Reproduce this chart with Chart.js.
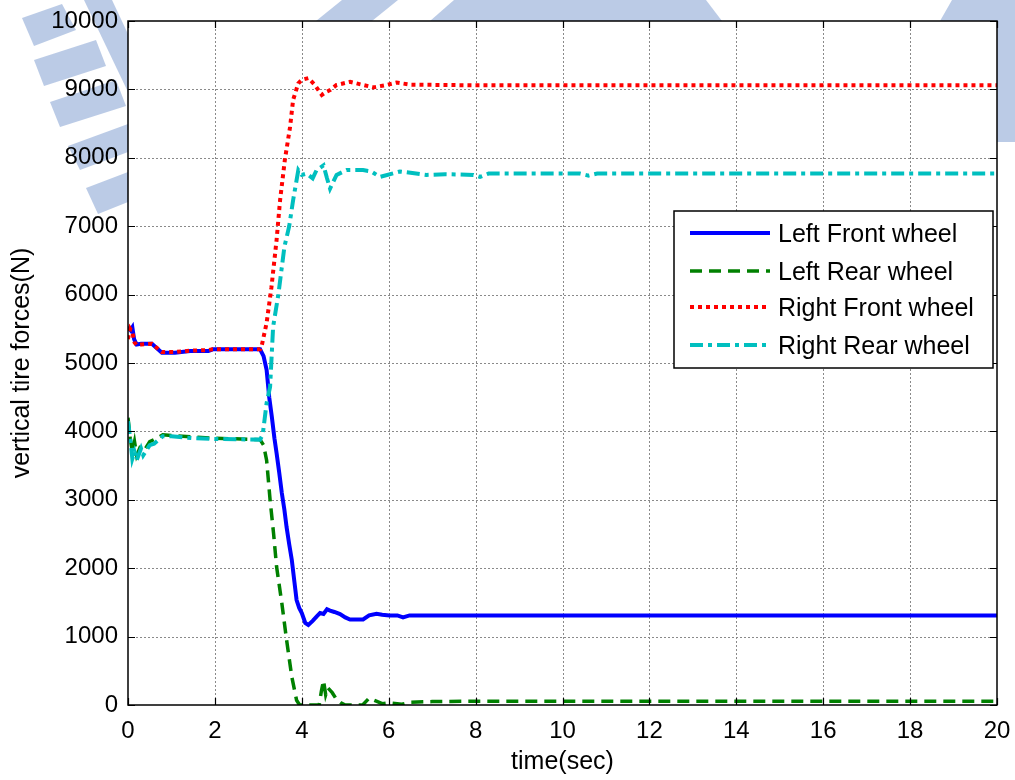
<!DOCTYPE html>
<html>
<head>
<meta charset="utf-8">
<script src="https://cdn.jsdelivr.net/npm/chart.js@4.4.0/dist/chart.umd.min.js"></script>
<style>
  html, body { margin: 0; padding: 0; background: #fff; }
  #wrap { width: 1015px; height: 780px; position: relative; }
</style>
</head>
<body>
<div id="wrap"><canvas id="c" width="1015" height="780"></canvas></div>
<script>
// Vertical tire forces of the four wheels during the manoeuvre (N) against time (s)
const seriesLabels = ['Left Front wheel', 'Left Rear wheel', 'Right Front wheel', 'Right Rear wheel'];

const timeLF  = [0, 0.06, 0.1, 0.14, 0.2, 0.3, 0.55, 0.78, 1.08, 1.43, 1.85, 1.95, 3.04, 3.12, 3.19, 3.25, 3.31, 3.37, 3.42, 3.48, 3.54, 3.6, 3.65, 3.71, 3.77, 3.83, 3.88, 3.94, 4.0, 4.08, 4.15, 4.25, 4.35, 4.42, 4.5, 4.58, 4.65, 4.75, 4.88, 5.0, 5.11, 5.41, 5.55, 5.72, 5.85, 6.02, 6.2, 6.33, 6.48, 8, 20];
const forceLF = [5530, 5480, 5520, 5350, 5270, 5280, 5280, 5150, 5150, 5175, 5175, 5200, 5200, 5100, 4900, 4500, 4215, 3900, 3680, 3400, 3100, 2850, 2600, 2350, 2120, 1800, 1535, 1420, 1345, 1200, 1170, 1230, 1300, 1345, 1330, 1400, 1380, 1360, 1330, 1280, 1250, 1250, 1310, 1335, 1320, 1310, 1310, 1280, 1310, 1310, 1310];

const timeLR  = [0, 0.05, 0.1, 0.15, 0.2, 0.3, 0.4, 0.5, 0.6, 0.8, 1.0, 1.5, 2.0, 3.04, 3.12, 3.19, 3.27, 3.35, 3.42, 3.54, 3.65, 3.77, 3.88, 3.95, 4.4, 4.45, 4.5, 4.55, 4.6, 4.7, 4.8, 4.9, 5.0, 5.4, 5.55, 5.7, 5.85, 6.0, 6.3, 6.5, 7, 8, 20];
const forceLR = [4200, 3900, 3700, 3850, 3650, 3800, 3750, 3850, 3880, 3950, 3940, 3920, 3900, 3880, 3800, 3580, 3000, 2510, 2020, 1490, 950, 410, 70, 0, 0, 200, 360, 150, 250, 180, 80, 30, 0, 0, 100, 60, 20, 30, 10, 40, 50, 55, 55];

const timeRF  = [0, 0.05, 0.1, 0.15, 0.2, 0.3, 0.55, 0.78, 1.08, 1.43, 1.85, 1.95, 3.04, 3.08, 3.19, 3.3, 3.42, 3.5, 3.61, 3.73, 3.8, 3.92, 4.0, 4.15, 4.3, 4.46, 4.55, 4.65, 4.8, 5.11, 5.41, 5.65, 5.95, 6.18, 6.49, 8, 20];
const forceRF = [5350, 5500, 5450, 5300, 5260, 5270, 5280, 5160, 5160, 5180, 5190, 5200, 5200, 5260, 5585, 6100, 6800, 7380, 7970, 8450, 8845, 9090, 9140, 9165, 9065, 8920, 8960, 8990, 9065, 9110, 9065, 9030, 9065, 9100, 9070, 9060, 9060];

const timeRR  = [0, 0.05, 0.1, 0.15, 0.2, 0.3, 0.35, 0.5, 0.6, 0.8, 1.0, 1.5, 2.0, 3.04, 3.1, 3.19, 3.27, 3.34, 3.46, 3.6, 3.71, 3.8, 3.92, 4.0, 4.11, 4.25, 4.34, 4.5, 4.58, 4.65, 4.8, 5.03, 5.41, 5.6, 5.8, 6.26, 6.87, 7.3, 7.95, 8.1, 8.3, 10.4, 10.6, 10.8, 20];
const forceRR = [4150, 3900, 3600, 3700, 3580, 3750, 3650, 3800, 3820, 3930, 3930, 3900, 3890, 3880, 3950, 4415, 4650, 5530, 6000, 6700, 7000, 7380, 7820, 7750, 7770, 7700, 7820, 7890, 7700, 7550, 7750, 7820, 7820, 7800, 7720, 7800, 7750, 7760, 7750, 7720, 7770, 7770, 7740, 7770, 7770];

const xTickValues = [0, 2, 4, 6, 8, 10, 12, 14, 16, 18, 20];
const yTickValues = [0, 1000, 2000, 3000, 4000, 5000, 6000, 7000, 8000, 9000, 10000];

const FONT = 'Liberation Sans, Arial, sans-serif';

function pairs(ts, vs) { return ts.map((t, i) => ({ x: t, y: vs[i] })); }

// pale emblem printed behind the figure margins
const emblem = [
  [[22,18],[62,4],[76,30],[34,46]],
  [[34,60],[96,40],[106,66],[44,86]],
  [[50,102],[116,80],[126,106],[60,127]],
  [[68,146],[128,124],[128,152],[80,170]],
  [[86,188],[128,172],[128,202],[98,214]],
  [[84,0],[112,0],[128,34],[128,92]],
  [[316,21],[342,0],[398,0],[372,21]],
  [[430,21],[454,0],[706,0],[722,21]],
  [[940,21],[952,0],[1015,0],[1015,142],[997,142],[997,21]]
];

const figurePlugin = {
  id: 'figure',
  beforeDraw(chart) {
    const { ctx, chartArea: a, scales } = chart;
    ctx.save();
    ctx.fillStyle = 'rgba(105,140,200,0.45)';
    emblem.forEach(poly => {
      ctx.beginPath();
      poly.forEach(([px, py], i) => i ? ctx.lineTo(px, py) : ctx.moveTo(px, py));
      ctx.closePath();
      ctx.fill();
    });
    ctx.fillStyle = '#ffffff';
    ctx.fillRect(a.left, a.top, a.right - a.left, a.bottom - a.top);
    // dotted grid
    ctx.strokeStyle = '#8a8a8a';
    ctx.lineWidth = 1;
    ctx.setLineDash([2, 2]);
    xTickValues.slice(1, -1).forEach(v => {
      const px = Math.round(scales.x.getPixelForValue(v)) + 0.5;
      ctx.beginPath(); ctx.moveTo(px, a.top); ctx.lineTo(px, a.bottom); ctx.stroke();
    });
    yTickValues.slice(1, -1).forEach(v => {
      const py = Math.round(scales.y.getPixelForValue(v)) + 0.5;
      ctx.beginPath(); ctx.moveTo(a.left, py); ctx.lineTo(a.right, py); ctx.stroke();
    });
    ctx.restore();
  },
  afterDraw(chart) {
    const { ctx, chartArea: a, scales } = chart;
    ctx.save();
    // axes box with inward ticks on all sides
    ctx.strokeStyle = '#000';
    ctx.lineWidth = 1.5;
    ctx.setLineDash([]);
    ctx.strokeRect(a.left, a.top, a.right - a.left, a.bottom - a.top);
    const tl = 7;
    ctx.lineWidth = 1.2;
    ctx.beginPath();
    xTickValues.forEach(v => {
      const px = Math.round(scales.x.getPixelForValue(v)) + 0.5;
      ctx.moveTo(px, a.bottom); ctx.lineTo(px, a.bottom - tl);
      ctx.moveTo(px, a.top); ctx.lineTo(px, a.top + tl);
    });
    yTickValues.forEach(v => {
      const py = Math.round(scales.y.getPixelForValue(v)) + 0.5;
      ctx.moveTo(a.left, py); ctx.lineTo(a.left + tl, py);
      ctx.moveTo(a.right, py); ctx.lineTo(a.right - tl, py);
    });
    ctx.stroke();

    // legend box
    const box = { x: 674, y: 211, w: 319, h: 157 };
    ctx.fillStyle = '#fff';
    ctx.fillRect(box.x, box.y, box.w, box.h);
    ctx.lineWidth = 1.5;
    ctx.strokeStyle = '#000';
    ctx.strokeRect(box.x, box.y, box.w, box.h);
    const rows = [233, 271, 307, 345];
    chart.data.datasets.forEach((ds, i) => {
      const y = rows[i];
      ctx.strokeStyle = ds.borderColor;
      ctx.lineWidth = ds.borderWidth;
      ctx.setLineDash(ds.borderDash || []);
      ctx.lineCap = 'butt';
      ctx.beginPath(); ctx.moveTo(690, y); ctx.lineTo(770, y); ctx.stroke();
      ctx.setLineDash([]);
      ctx.fillStyle = '#000';
      ctx.font = '25px ' + FONT;
      ctx.textBaseline = 'middle';
      ctx.textAlign = 'left';
      ctx.fillText(ds.label, 778, y + 2);
    });
    ctx.restore();
  }
};

const tickFont = { family: FONT, size: 24 };

new Chart(document.getElementById('c'), {
  type: 'line',
  data: {
    datasets: [
      { label: seriesLabels[0], data: pairs(timeLF, forceLF), borderColor: '#0000ff', borderWidth: 4, order: 4 },
      { label: seriesLabels[1], data: pairs(timeLR, forceLR), borderColor: '#008000', borderWidth: 3.5, borderDash: [12, 7], order: 3 },
      { label: seriesLabels[2], data: pairs(timeRF, forceRF), borderColor: '#ff0000', borderWidth: 4, borderDash: [4, 4], order: 2 },
      { label: seriesLabels[3], data: pairs(timeRR, forceRR), borderColor: '#00bfbf', borderWidth: 4, borderDash: [13, 5, 4, 5], order: 1 }
    ]
  },
  options: {
    responsive: false,
    animation: false,
    devicePixelRatio: 1,
    layout: { padding: { top: 21, right: 18, left: 0, bottom: 0 } },
    elements: { point: { radius: 0 }, line: { tension: 0, fill: false } },
    plugins: { legend: { display: false }, tooltip: { enabled: false } },
    scales: {
      x: {
        type: 'linear', min: 0, max: 20,
        afterBuildTicks: s => { s.ticks = xTickValues.map(v => ({ value: v })); },
        afterFit: s => { s.height = 75; s.paddingLeft = 0; s.paddingRight = 0; },
        grid: { display: false, drawTicks: false },
        border: { display: false },
        ticks: { font: tickFont, color: '#000', padding: 12, maxRotation: 0, callback: v => String(v) },
        title: { display: true, text: 'time(sec)', font: { family: FONT, size: 25 }, color: '#000', padding: { top: 0, bottom: 3 } }
      },
      y: {
        type: 'linear', min: 0, max: 10000,
        afterBuildTicks: s => { s.ticks = yTickValues.map(v => ({ value: v })); },
        afterFit: s => { s.width = 128; s.paddingTop = 0; s.paddingBottom = 0; },
        grid: { display: false, drawTicks: false },
        border: { display: false },
        ticks: { font: tickFont, color: '#000', padding: 10, callback: v => String(v) },
        title: { display: true, text: 'vertical tire forces(N)', font: { family: FONT, size: 25 }, color: '#000', padding: { top: 7, bottom: 0 } }
      }
    }
  },
  plugins: [figurePlugin]
});
</script>
</body>
</html>
